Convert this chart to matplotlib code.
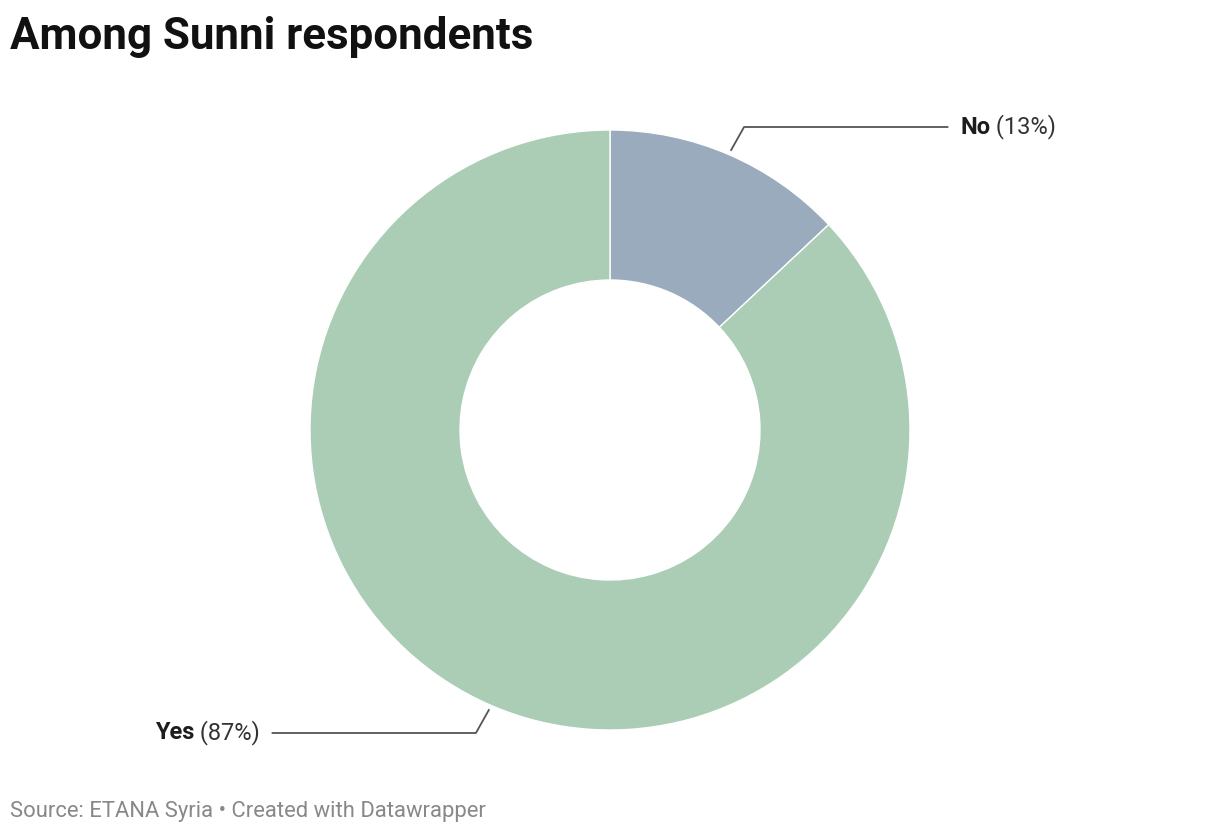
import numpy as np
import matplotlib.pyplot as plt
from matplotlib.transforms import offset_copy

labels = ['No', 'Yes']
values = [13, 87]
colors = ['#9aabbd', '#abcdb6']

plt.rcParams['font.family'] = ['Roboto', 'DejaVu Sans']

W, H = 1220, 836
fig = plt.figure(figsize=(W / 100, H / 100), dpi=100)

# square axes, centre (610, 430) px, radius 300 px
r_px = 300
ax = fig.add_axes([(610 - r_px) / W, (H - 430 - r_px) / H, 2 * r_px / W, 2 * r_px / H])
wedges, _ = ax.pie(values, colors=colors, startangle=90, counterclock=False,
                   radius=1, wedgeprops=dict(width=0.5, edgecolor='white', linewidth=1))
ax.set_xlim(-1, 1)
ax.set_ylim(-1, 1)
ax.set_aspect('equal')
ax.axis('off')

fig.canvas.draw()
renderer = fig.canvas.get_renderer()

fs = 17
total = sum(values)
for w, lab, v in zip(wedges, labels, values):
    mid = np.deg2rad((w.theta1 + w.theta2) / 2)
    x0, y0 = 1.017 * np.cos(mid), 1.017 * np.sin(mid)
    side = 1 if x0 > 0 else -1
    y1 = 1.01 * np.sign(y0)
    x1 = x0 + side * 0.043
    x2 = side * 1.125
    ax.plot([x0, x1, x2], [y0, y1, y1], color='#555555', lw=1.3, clip_on=False)
    pct = ' (%d%%)' % round(100 * v / total)
    tx = side * 1.167
    if side > 0:
        t1 = ax.text(tx, y1, lab, fontsize=fs, fontweight='bold', color='#1d1d1d',
                     ha='left', va='center')
        bb = t1.get_window_extent(renderer)
        ax.text(tx, y1, pct, fontsize=fs, color='#333333', ha='left', va='center',
                transform=offset_copy(ax.transData, fig=fig, x=bb.width, units='dots'))
    else:
        t2 = ax.text(tx, y1, pct, fontsize=fs, color='#333333', ha='right', va='center')
        bb = t2.get_window_extent(renderer)
        ax.text(tx, y1, lab, fontsize=fs, fontweight='bold', color='#1d1d1d',
                ha='right', va='center',
                transform=offset_copy(ax.transData, fig=fig, x=-bb.width, units='dots'))

fig.text(10 / W, 1 - 37 / H, 'Among Sunni respondents', fontsize=31.6, fontweight='bold',
         color='#111111', ha='left', va='center')
fig.text(10 / W, 1 - 812 / H, 'Source: ETANA Syria \u2022 Created with Datawrapper',
         fontsize=15.8, color='#888888', ha='left', va='center')

fig.savefig('out.png', dpi=100)
